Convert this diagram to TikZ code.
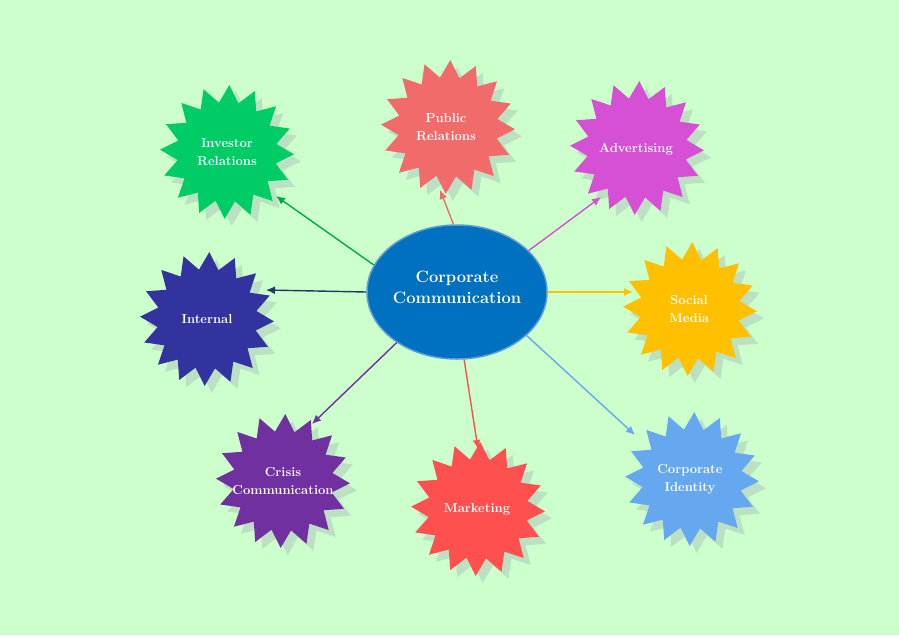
\documentclass[tikz,border=0pt]{standalone}
\usetikzlibrary{shapes.geometric,arrows.meta}
\definecolor{bgc}{HTML}{CCFFCC}
\definecolor{shd}{HTML}{BCE0C2}
\definecolor{cinv}{HTML}{00CC66}
\definecolor{cinvA}{HTML}{00AA4A}
\definecolor{cpub}{HTML}{F26B6B}
\definecolor{cadv}{HTML}{D650D6}
\definecolor{csoc}{HTML}{FFC000}
\definecolor{ccid}{HTML}{66A8F0}
\definecolor{cmkt}{HTML}{FF5050}
\definecolor{ccri}{HTML}{7030A0}
\definecolor{cint}{HTML}{3333A0}
\definecolor{cintA}{HTML}{1F3864}
\definecolor{cell}{HTML}{0070C0}
\definecolor{cellB}{HTML}{5B9BD5}
\tikzset{
  burst/.pic={
    \fill[shd, shift={(7,7)}] (2:67) \foreach \i in {1,...,31}{ -- ({2+\i*11.25}:{67-17*mod(\i,2)}) } -- cycle;
    \fill[#1] (2:67) \foreach \i in {1,...,31}{ -- ({2+\i*11.25}:{67-17*mod(\i,2)}) } -- cycle;
  },
  lbl/.style={circle, minimum size=116, inner sep=0, text=white, align=center,
    font=\bfseries\fontsize{13}{18}\selectfont},
  conn/.style={line width=1.4, -{Latex[length=9,width=8]}},
}
\begin{document}
\begin{tikzpicture}[x=1pt,y=-1pt]
\fill[bgc] (0,0) rectangle (899,635);
\useasboundingbox (0,0) rectangle (899,635);
\pic at (227,152) {burst=cinv};
\pic at (448,127) {burst=cpub};
\pic at (637,148) {burst=cadv};
\pic at (690,309) {burst=csoc};
\pic at (692,479) {burst=ccid};
\pic at (478,509) {burst=cmkt};
\pic at (283,481) {burst=ccri};
\pic at (207,319) {burst=cint};

\node[lbl] (inv) at (227,152) {Investor\\Relations};
\node[lbl] (pub) at (446,127) {Public\\Relations};
\node[lbl] (adv) at (636,149) {Advertising};
\node[lbl] (soc) at (689,309) {Social\\Media};
\node[lbl] (cid) at (690,479) {Corporate\\Identity};
\node[lbl] (mkt) at (477,509) {Marketing};
\node[lbl] (cri) at (283,481) {Crisis\\Communication};
\node[lbl] (int) at (207,319) {Internal};

\node[ellipse, minimum width=180, minimum height=134, inner sep=0, fill=cell, draw=cellB, line width=1.5,
  label={[name=cct, yshift=5pt, text=white, align=center, font=\bfseries\fontsize{16.5}{21}\selectfont]center:Corporate\\Communication}] (cc) at (457,292) {};

\coordinate (tinv) at (276,196);
\coordinate (tpub) at (440,190);
\coordinate (tadv) at (601,197);
\coordinate (tsoc) at (633,292);
\coordinate (tcid) at (635,435);
\coordinate (tmkt) at (478,449);
\coordinate (tcri) at (312,424);
\coordinate (tint) at (266,290);

\draw[conn, cinvA] (cc.162) -- (tinv);
\draw[conn, cpub] (cc.93) -- (tpub);
\draw[conn, cadv] (cc.30) -- (tadv);
\draw[conn, csoc] (cc.east) -- (tsoc);
\draw[conn, ccid] (cc.-32) -- (tcid);
\draw[conn, cmkt] (cc.-84) -- (tmkt);
\draw[conn, ccri] (cc.-140) -- (tcri);
\draw[conn, cintA] (cc.west) -- (tint);
\end{tikzpicture}
\end{document}
